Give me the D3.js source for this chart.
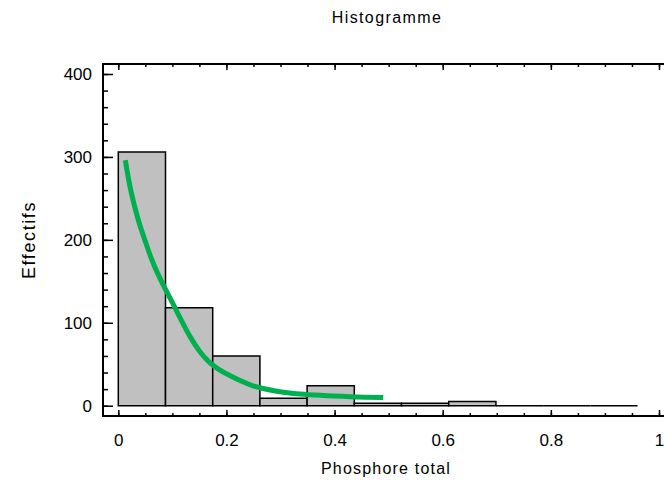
<!DOCTYPE html>
<html lang="fr">
<head>
    <meta charset="utf-8">
    <style>
        body { margin: 0; background: #fff; }
        svg { display: block; font-family: "Liberation Sans", Arial, sans-serif; }
        .bar { fill: #c0c0c0; stroke: #000; stroke-width: 1.5; }
        .fit { fill: none; stroke: #00b050; stroke-width: 5; }
        .frame { stroke: #000; stroke-width: 2; }
        .axis line { stroke: #000; stroke-width: 1.5; }
        .axis text { font-size: 17px; fill: #000; }
    </style>
    <script src="https://d3js.org/d3.v7.min.js"></script>
</head>
<body>
    <svg width="664" height="483"></svg>
    <script>
        // histogram bins (left edges + last right edge) and counts
        var binEdges = [0, 0.0873, 0.1746, 0.2619, 0.3492, 0.4365, 0.5238, 0.6111, 0.6984, 0.7857, 0.8730, 0.9603];
        var counts = [306, 118, 60, 9, 24, 3, 3, 5, 0, 0, 0];

        // fitted distribution curve
        var fitX = [0.013, 0.023, 0.037, 0.049, 0.062, 0.076, 0.101, 0.133, 0.150, 0.166, 0.183, 0.207, 0.249, 0.293, 0.336, 0.429, 0.490];
        var fitY = [296, 260, 224, 200, 176, 155, 123, 83, 66, 54, 45, 36, 24, 17.5, 14, 10.8, 10];

        var xTicks = [0, 0.2, 0.4, 0.6, 0.8, 1];
        var yTicks = [0, 100, 200, 300, 400];

        var svg = d3.select("svg"),
            plotLeft = 103, plotRight = 670, plotTop = 64, plotBottom = 416;

        var x = d3.scaleLinear().domain([0, 1]).range([118.3, 659]),
            y = d3.scaleLinear().domain([0, 400]).range([405.7, 74]);

        svg.append("text")
            .attr("x", 387)
            .attr("y", 23)
            .attr("text-anchor", "middle")
            .attr("font-size", "16px")
            .attr("letter-spacing", "1.4px")
            .text("Histogramme");

        // bars (drawn as paths so empty bins still show as a line)
        svg.selectAll(".bar")
            .data(counts)
            .enter().append("path")
            .attr("class", "bar")
            .attr("d", function(d, i) {
                var p = d3.path(),
                    x0 = x(binEdges[i]), x1 = x(binEdges[i + 1]);
                p.moveTo(x0, y(0));
                p.lineTo(x0, y(d));
                p.lineTo(x1, y(d));
                p.lineTo(x1, y(0));
                p.closePath();
                return p.toString();
            });

        // fitted curve
        var line = d3.line()
            .x(function(d, i) { return x(fitX[i]); })
            .y(function(d) { return y(d); })
            .curve(d3.curveCatmullRom);

        svg.append("path")
            .attr("class", "fit")
            .attr("d", line(fitY));

        // minor ticks every 0.05 / 20
        var xMinor = d3.range(0, 21).map(function(i) { return i * 0.05; });
        var yMinor = d3.range(0, 21).map(function(i) { return i * 20; });

        svg.append("g")
            .attr("class", "axis")
            .attr("transform", "translate(0," + plotBottom + ")")
            .call(d3.axisBottom(x).tickValues(xMinor).tickSize(-3).tickFormat(""))
            .select(".domain").remove();

        svg.append("g")
            .attr("class", "axis")
            .attr("transform", "translate(0," + plotBottom + ")")
            .call(d3.axisBottom(x).tickValues(xTicks).tickSize(-6).tickPadding(18)
                .tickFormat(d3.format("~g")))
            .select(".domain").remove();

        svg.append("g")
            .attr("class", "axis")
            .attr("transform", "translate(0," + plotTop + ")")
            .call(d3.axisTop(x).tickValues(xMinor).tickSize(-3).tickFormat(""))
            .select(".domain").remove();

        svg.append("g")
            .attr("class", "axis")
            .attr("transform", "translate(0," + plotTop + ")")
            .call(d3.axisTop(x).tickValues(xTicks).tickSize(-6).tickFormat(""))
            .select(".domain").remove();

        svg.append("g")
            .attr("class", "axis")
            .attr("transform", "translate(" + plotLeft + ",0)")
            .call(d3.axisLeft(y).tickValues(yMinor).tickSize(-5).tickFormat(""))
            .select(".domain").remove();

        svg.append("g")
            .attr("class", "axis")
            .attr("transform", "translate(" + plotLeft + ",0)")
            .call(d3.axisLeft(y).tickValues(yTicks).tickSize(-10).tickPadding(11))
            .select(".domain").remove();

        // frame: left, top, bottom
        svg.append("line").attr("class", "frame")
            .attr("x1", plotLeft).attr("x2", plotLeft).attr("y1", plotTop - 1).attr("y2", plotBottom + 1);
        svg.append("line").attr("class", "frame")
            .attr("x1", plotLeft).attr("x2", plotRight).attr("y1", plotTop).attr("y2", plotTop);
        svg.append("line").attr("class", "frame")
            .attr("x1", plotLeft).attr("x2", plotRight).attr("y1", plotBottom).attr("y2", plotBottom);

        svg.append("text")
            .attr("x", 386)
            .attr("y", 474)
            .attr("text-anchor", "middle")
            .attr("font-size", "16px")
            .attr("letter-spacing", "1.2px")
            .text("Phosphore total");

        svg.append("text")
            .attr("transform", "translate(35,240) rotate(-90)")
            .attr("text-anchor", "middle")
            .attr("font-size", "18px")
            .attr("letter-spacing", "1.6px")
            .text("Effectifs");
    </script>
</body>
</html>
